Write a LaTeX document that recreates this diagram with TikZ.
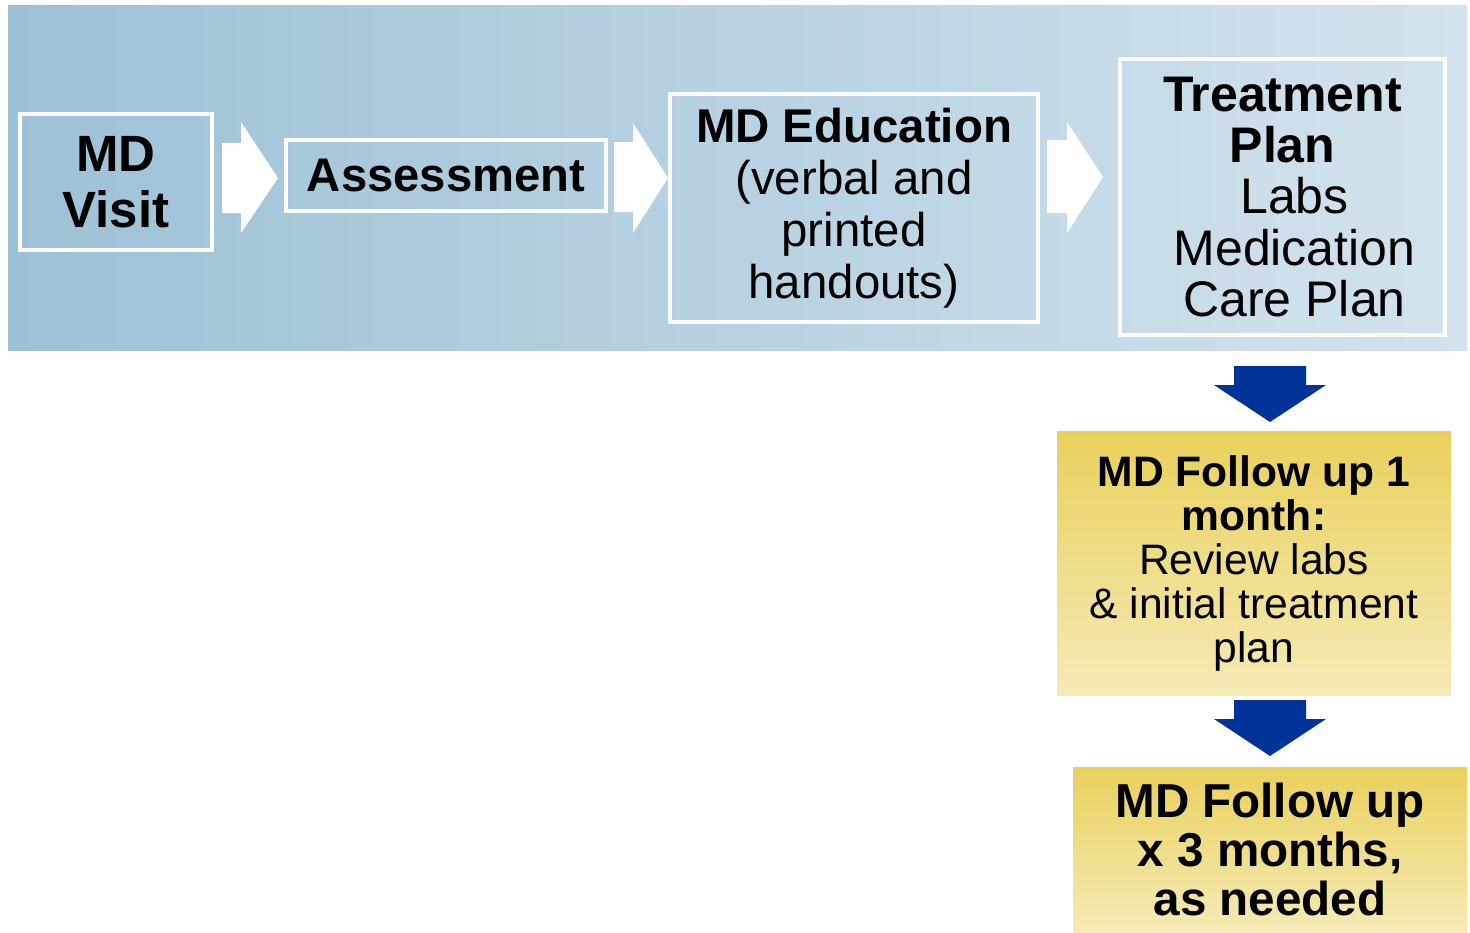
\documentclass[tikz,border=0pt]{standalone}
\usepackage{fontspec}
\setmainfont{Liberation Sans}
\newcommand\setfs[2]{\fontsize{#1}{#2}\selectfont}
\definecolor{bandL}{RGB}{157,193,214}
\definecolor{bandR}{RGB}{211,227,237}
\definecolor{goldTop}{RGB}{233,209,92}
\definecolor{goldBot}{RGB}{245,234,182}
\definecolor{flowblue}{RGB}{0,51,153}
\tikzset{
  stepbox/.style={draw=white, line width=2pt, inner sep=0pt, align=center, text=black},
  goldbox/.style={top color=goldTop, bottom color=goldBot, inner sep=0pt, align=center, text=black},
  whitearrow/.style={fill=white},
  bluearrow/.style={fill=flowblue},
}
\begin{document}
\begin{tikzpicture}[x=0.5pt, y=-0.5pt]
\useasboundingbox (0,0) rectangle (1470,932);

% background band
\shade[left color=bandL, right color=bandR] (8,5) rectangle (1467,350);

% process boxes along the band
\node[stepbox, minimum width=96pt, minimum height=68pt, font=\setfs{25.5}{28}\bfseries] (visit) at (116,182)
  {MD\\Visit};
\node[stepbox, minimum width=160pt, minimum height=35.5pt, font=\setfs{23.6}{26}\bfseries] (assess) at (446,175.5)
  {Assessment};
\node[stepbox, minimum width=184pt, minimum height=114pt, font=\setfs{23.7}{26}] (educ) at (854,208)
  {\textbf{MD Education}\\(verbal and\\printed\\handouts)};
\node[stepbox, minimum width=162.5pt, minimum height=138pt, font=\setfs{25}{25.6}] (plan) at (1282.5,197)
  {\textbf{Treatment}\\\textbf{Plan}\\\hspace*{12pt}Labs\\\hspace*{12pt}Medication\\\hspace*{12pt}Care Plan};

% follow-up boxes
\node[goldbox, minimum width=197pt, minimum height=132pt, font=\setfs{21.3}{22}] (fu1) at (1254,563)
  {\textbf{MD Follow up 1}\\\textbf{month:}\\Review labs\\\& initial treatment\\plan};
\node[goldbox, minimum width=197pt, minimum height=82.5pt, font=\setfs{23.8}{24.5}\bfseries] (fu3) at (1270,849.5)
  {MD Follow up\\x 3 months,\\as needed};

% white block arrows between the steps
\fill[whitearrow] (222,143) -- (241,143) -- (241,122) -- (278,178) -- (241,233) -- (241,213) -- (222,213) -- cycle;
\fill[whitearrow] (614,142) -- (633,142) -- (633,123) -- (668,178) -- (633,233) -- (633,212) -- (614,212) -- cycle;
\fill[whitearrow] (1047,140) -- (1067,140) -- (1067,122) -- (1103,177) -- (1067,233) -- (1067,213) -- (1047,213) -- cycle;

% blue down arrows to the follow-ups
\fill[bluearrow] (1234,366) -- (1306,366) -- (1306,385) -- (1326,385) -- (1270,422) -- (1214,385) -- (1234,385) -- cycle;
\fill[bluearrow] (1234,700) -- (1306,700) -- (1306,719) -- (1326,719) -- (1270,756) -- (1214,719) -- (1234,719) -- cycle;
\end{tikzpicture}
\end{document}
